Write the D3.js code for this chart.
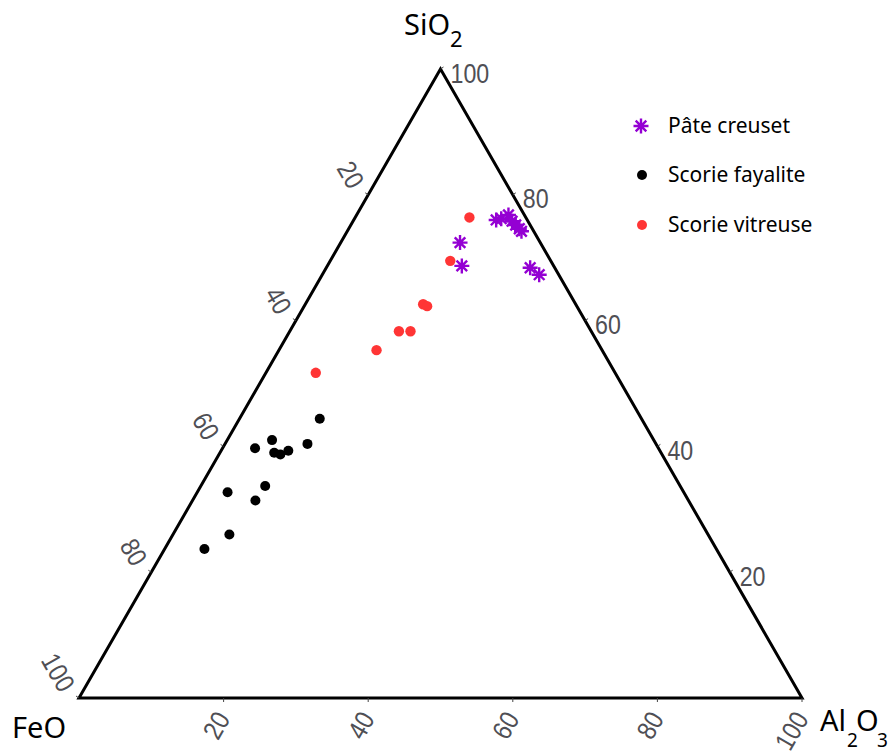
<!DOCTYPE html>
<html>
<head>
<meta charset="utf-8">
<script src="https://cdn.jsdelivr.net/npm/d3@7"></script>
<style>
  html, body { margin: 0; padding: 0; background: #fff; }
  svg { display: block; }
</style>
</head>
<body>
<svg id="chart" width="893" height="753"></svg>
<script>
// ---- Data: [SiO2, Al2O3, FeO] in % ----
const pateCreuset = [
  [72.4, 16.5, 11.1], [68.7, 18.6, 12.7], [76.0, 19.7, 4.3], [76.2, 20.3, 3.5],
  [76.8, 21.0, 2.2], [75.8, 22.0, 2.2], [75.2, 22.8, 2.0], [74.6, 23.6, 1.8],
  [74.2, 24.1, 1.7], [68.4, 28.2, 3.4], [67.3, 30.0, 2.7]
];
const scorieFayalite = [
  [23.7, 5.5, 70.8], [26.0, 7.8, 66.2], [32.7, 4.2, 63.1], [31.4, 8.7, 59.9],
  [33.7, 8.9, 57.4], [39.7, 4.5, 55.8], [41.0, 6.2, 52.8], [39.0, 7.5, 53.5],
  [38.7, 8.5, 52.8], [39.3, 9.3, 51.4], [40.4, 11.4, 48.2], [44.4, 11.1, 44.5]
];
const scorieVitreuse = [
  [51.7, 6.9, 41.4], [55.3, 13.5, 31.2], [58.3, 15.1, 26.6], [58.3, 16.7, 25.0],
  [62.6, 16.3, 21.1], [62.3, 17.0, 20.7], [69.5, 16.6, 13.9], [76.4, 15.8, 7.8]
];
const tickValues = [20, 40, 60, 80, 100];
const legendLabels = ["Pâte creuset", "Scorie fayalite", "Scorie vitreuse"];

// ---- Scales ----
const xScale = d3.scaleLinear().domain([0, 100]).range([79, 802]);
const yScale = d3.scaleLinear().domain([0, 100]).range([698, 69]);
function proj(s, a) { return [xScale(a + s / 2), yScale(s)]; }

const svg = d3.select("#chart");
const tickFont = "'Liberation Sans', Arial, sans-serif";
const titleFont = "'Noto Sans', 'Open Sans', sans-serif";
const tickColor = "#4f4f55";

// Triangle
const A = proj(100, 0), L = proj(0, 0), R = proj(0, 100);
svg.append("path")
  .attr("d", d3.line()([A, L, R, A]) + "Z")
  .attr("fill", "none").attr("stroke", "#000").attr("stroke-width", 3)
  .attr("stroke-linejoin", "miter");

// Tick labels
const tg = svg.append("g").attr("font-family", tickFont).attr("font-size", 27).attr("fill", tickColor);
// Left edge: FeO
tickValues.forEach(v => {
  const p = proj(100 - v, 0);
  svg.append("line").attr("x1", p[0]).attr("y1", p[1]).attr("x2", p[0] - 3).attr("y2", p[1] - 2)
    .attr("stroke", "#444").attr("stroke-width", 1);
  tg.append("text")
    .attr("transform", `translate(${p[0] - 11},${p[1] - 9}) rotate(60) scale(0.86,1)`)
    .attr("text-anchor", "end").attr("dominant-baseline", "central").text(v);
});
// Bottom edge: Al2O3
tickValues.forEach(v => {
  const p = proj(0, v);
  svg.append("line").attr("x1", p[0]).attr("y1", p[1]).attr("x2", p[0]).attr("y2", p[1] + 4)
    .attr("stroke", "#444").attr("stroke-width", 1);
  tg.append("text")
    .attr("transform", `translate(${p[0] - 1},${p[1] + 16}) rotate(-60) scale(0.86,1)`)
    .attr("text-anchor", "end").attr("dominant-baseline", "central").text(v);
});
// Right edge: SiO2
tickValues.forEach(v => {
  const p = proj(v, 100 - v);
  svg.append("line").attr("x1", p[0]).attr("y1", p[1]).attr("x2", p[0] + 3).attr("y2", p[1] - 2)
    .attr("stroke", "#444").attr("stroke-width", 1);
  tg.append("text")
    .attr("transform", `translate(${p[0] + 10},${p[1] + 4}) scale(0.86,1)`)
    .attr("text-anchor", "start").attr("dominant-baseline", "central").text(v);
});

// Axis titles
const tt = svg.append("g").attr("font-family", titleFont).attr("fill", "#000");
const si = tt.append("text").attr("x", 404).attr("y", 35).attr("font-size", 29);
si.append("tspan").text("SiO");
si.append("tspan").attr("font-size", 22).attr("dy", 12).text("2");
tt.append("text").attr("x", 12).attr("y", 738).attr("font-size", 29).text("FeO");
tt.append("text").attr("x", 820).attr("y", 731).attr("font-size", 29).text("Al");
tt.append("text").attr("x", 847).attr("y", 747).attr("font-size", 19).text("2");
tt.append("text").attr("x", 856).attr("y", 731).attr("font-size", 29).text("O");
tt.append("text").attr("x", 877).attr("y", 747).attr("font-size", 19).text("3");

// Star symbol
function starPath(cx, cy, r) {
  let d = "";
  [0, 45, 90, 135].forEach(a => {
    const rad = a * Math.PI / 180, dx = Math.cos(rad) * r, dy = Math.sin(rad) * r;
    d += `M${cx - dx},${cy - dy}L${cx + dx},${cy + dy}`;
  });
  return d;
}

const purple = "#9400d3", red = "#ff3535", black = "#000";

// Points
svg.append("g").selectAll("circle").data(scorieFayalite).join("circle")
  .attr("cx", d => proj(d[0], d[1])[0]).attr("cy", d => proj(d[0], d[1])[1])
  .attr("r", 5).attr("fill", black);
svg.append("g").selectAll("circle").data(scorieVitreuse).join("circle")
  .attr("cx", d => proj(d[0], d[1])[0]).attr("cy", d => proj(d[0], d[1])[1])
  .attr("r", 5.2).attr("fill", red);
svg.append("g").selectAll("path").data(pateCreuset).join("path")
  .attr("d", d => { const p = proj(d[0], d[1]); return starPath(p[0], p[1], 7.5); })
  .attr("stroke", purple).attr("stroke-width", 2.4).attr("fill", "none");

// Legend
const lg = svg.append("g").attr("font-family", titleFont).attr("font-size", 21).attr("fill", "#000");
const legY = [126, 175, 225];
lg.append("path").attr("d", starPath(641, legY[0], 7.5)).attr("stroke", purple).attr("stroke-width", 2.4);
lg.append("circle").attr("cx", 642).attr("cy", legY[1]).attr("r", 5).attr("fill", black);
lg.append("circle").attr("cx", 642).attr("cy", legY[2]).attr("r", 5).attr("fill", red);
legendLabels.forEach((t, i) => {
  lg.append("text").attr("x", 668).attr("y", legY[i] + 7).text(t);
});
</script>
</body>
</html>
